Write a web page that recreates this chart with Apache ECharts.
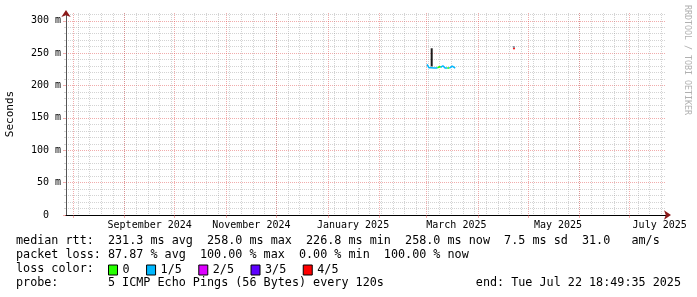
<!DOCTYPE html>
<html><head><meta charset="utf-8">
<script src="https://cdn.jsdelivr.net/npm/echarts@6/dist/echarts.min.js"></script>
<style>html,body{margin:0;padding:0;background:#fff}#c{width:697px;height:297px}</style>
</head><body><div id="c"></div>
<script>
const DAY = 86400000;
const END_TIME = Date.UTC(2025, 6, 22, 18, 49, 35);
const RANGE_DAYS = 360;
const START_TIME = END_TIME - RANGE_DAYS * DAY;
const REF_DAY = Date.UTC(2025, 2, 1); // day offsets below are counted from 1 Mar 2025

// axis tick labels
const xLabelText = ['September 2024', 'November 2024', 'January 2025', 'March 2025', 'May 2025', 'July 2025'];
const xLabelAt = ['2024-09-16', '2024-11-16', '2025-01-16', '2025-03-19', '2025-05-19', '2025-07-19'];
const yTickValues = [0, 50, 100, 150, 200, 250, 300];
const yTickLabels = ['0\u00a0\u00a0', '50 m', '100 m', '150 m', '200 m', '250 m', '300 m'];
const yMinorValues = [10, 20, 30, 40, 60, 70, 80, 90, 110, 120, 130, 140, 160, 170, 180, 190, 210, 220, 230, 240, 260, 270, 280, 290, 310];

// median RTT (ms) — days after 1 Mar 2025, value, lost pings of 5 (null = no data)
const medianDay  = [0.4, 0.9, 1.5, 2.1, 2.8, 3.4, 4.0, 4.7, 5.4, 6.0, 6.6, 7.3, 8.0, 8.6, 9.3, 9.9, 10.5, 11.2, 11.8, 12.5, 13.2, 13.8, 14.4, 15.0, 15.6, 16.2, 16.8, 17.3, 30.0, 52.3, 52.9];
const medianRtt  = [232.5, 230.5, 227.5, 227.0, 227.5, 227.0, 227.5, 227.0, 227.3, 227.0, 227.5, 228.5, 229.0, 228.0, 228.5, 230.5, 227.5, 227.0, 226.8, 227.0, 227.5, 227.0, 227.0, 227.5, 230.0, 231.5, 228.5, 227.0, null, 258.0, 256.0];
const medianLoss = [0, 1, 1, 1, 1, 1, 1, 1, 1, 1, 1, 0, 0, 0, 1, 1, 1, 1, 1, 1, 0, 0, 1, 1, 1, 1, 1, 1, null, 4, 4];

// smoke (spread of the individual pings)
const smokeDay   = [3.2, 52.5];
const smokeLow   = [229.5, 257.0];
const smokeHigh  = [257.5, 261.0];
const smokeShade = ['#1c1c1c', '#8a9aa8'];

const lossNames  = ['0', '1/5', '2/5', '3/5', '4/5'];
const lossColors = ['#26ff00', '#00b8ff', '#dd00ff', '#5e00ff', '#ff0000'];

// ---- grid helper values (calendar) ----
const weekTicks = [];
for (let t = Date.UTC(2024, 6, 28); t <= END_TIME; t += 7 * DAY) if (t >= START_TIME) weekTicks.push(t);
const monthTicks = [];
for (let m = 0; m < 13; m++) { const t = Date.UTC(2024, 6 + m, 1); if (t >= START_TIME && t <= END_TIME) monthTicks.push(t); }
const labelTicks = xLabelAt.map(s => Date.parse(s + 'T00:00:00Z'));

const MONO = '"DejaVu Sans Mono", monospace';
const GRID_GRAY = 'rgba(140,140,140,0.38)';
const GRID_RED = 'rgba(225,70,70,0.45)';
const ARROW = '#8b1a1a';

const lossSeries = lossNames.map((name, k) => ({
  name, type: 'line', xAxisIndex: 2, yAxisIndex: 1,
  data: medianDay.map((d, i) => {
    const t = REF_DAY + d * DAY;
    if (medianRtt[i] == null) return [t, null];
    const nextK = i + 1 < medianDay.length && medianRtt[i + 1] != null && medianLoss[i + 1] === k;
    return [t, (medianLoss[i] === k || nextK) ? medianRtt[i] : null];
  }),
  showSymbol: false, connectNulls: false, animation: false, z: 4,
  lineStyle: { color: lossColors[k], width: 1.5 }, itemStyle: { color: lossColors[k] }
}));

const smokeSeries = {
  name: 'smoke', type: 'custom', xAxisIndex: 2, yAxisIndex: 1, z: 3, animation: false,
  data: smokeDay.map((d, i) => [REF_DAY + d * DAY, smokeLow[i], smokeHigh[i], i]),
  encode: { x: 0, y: [1, 2] },
  renderItem: (params, api) => {
    const lo = api.coord([api.value(0), api.value(1)]);
    const hi = api.coord([api.value(0), api.value(2)]);
    return { type: 'rect', shape: { x: lo[0] - 1, y: hi[1], width: 2, height: lo[1] - hi[1] },
      style: { fill: smokeShade[api.value(3)] } };
  }
};

const baseX = { type: 'value', min: START_TIME, max: END_TIME, position: 'bottom' };
const baseY = { type: 'value', min: 0, max: 312, position: 'left' };

const option = {
  backgroundColor: '#ffffff',
  animation: false,
  grid: { left: 66, right: 31, top: 13, bottom: 82, containLabel: false, outerBoundsMode: 'none' },
  xAxis: [
    Object.assign({}, baseX, {
      axisLine: { show: false }, axisLabel: { show: false },
      axisTick: { show: false, customValues: weekTicks },
      splitLine: { show: true, lineStyle: { color: GRID_GRAY, type: [1, 1], width: 1 } }
    }),
    Object.assign({}, baseX, {
      axisLine: { show: true, symbol: ['none', 'arrow'], symbolSize: [7, 7], symbolOffset: [0, 5], lineStyle: { color: ARROW, width: 1 } },
      axisLabel: { show: false },
      axisTick: { show: true, length: 3, customValues: monthTicks, lineStyle: { color: GRID_RED } },
      splitLine: { show: true, lineStyle: { color: GRID_RED, type: [1, 1], width: 1 } }
    }),
    Object.assign({}, baseX, {
      axisLine: { show: true, lineStyle: { color: '#000', width: 1 } },
      axisTick: { show: false, customValues: labelTicks },
      splitLine: { show: false },
      axisLabel: { show: true, customValues: labelTicks, margin: 5, color: '#000',
        fontFamily: MONO, fontSize: 10, hideOverlap: false,
        formatter: v => { const i = labelTicks.indexOf(v); return i >= 0 ? xLabelText[i] : ''; } }
    })
  ],
  yAxis: [
    Object.assign({}, baseY, {
      axisLine: { show: true, symbol: ['none', 'arrow'], symbolSize: [7, 7], symbolOffset: [0, 3], lineStyle: { color: ARROW, width: 1 } },
      axisLabel: { show: false },
      axisTick: { show: true, length: 2, customValues: yMinorValues, lineStyle: { color: GRID_GRAY } },
      splitLine: { show: true, lineStyle: { color: GRID_GRAY, type: [1, 1], width: 1 } }
    }),
    Object.assign({}, baseY, {
      name: 'Seconds', nameLocation: 'middle', nameRotate: 90, nameGap: 50,
      nameTextStyle: { fontFamily: MONO, fontSize: 11, color: '#000' },
      axisLine: { show: true, lineStyle: { color: '#555', width: 1 } },
      axisTick: { show: true, length: 3, customValues: yTickValues, lineStyle: { color: GRID_RED } },
      splitLine: { show: true, lineStyle: { color: GRID_RED, type: [1, 1], width: 1 } },
      axisLabel: { show: true, customValues: yTickValues, margin: 5, color: '#000',
        fontFamily: MONO, fontSize: 10,
        formatter: v => { const i = yTickValues.indexOf(v); return i >= 0 ? yTickLabels[i] : ''; } }
    })
  ],
  legend: {
    data: lossNames, left: 108, top: 264, orient: 'horizontal', padding: 0,
    icon: 'rect', itemWidth: 9, itemHeight: 10, itemGap: 16.5, selectedMode: false,
    itemStyle: { borderColor: '#000', borderWidth: 1 },
    textStyle: { fontFamily: MONO, fontSize: 11.75, color: '#000' }
  },
  graphic: [
    { type: 'text', x: 16, y: 241, style: { text: 'median rtt:  231.3 ms avg  258.0 ms max  226.8 ms min  258.0 ms now  7.5 ms sd  31.0   am/s', font: '11.75px ' + MONO, fill: '#000', verticalAlign: 'middle' } },
    { type: 'text', x: 16, y: 255, style: { text: 'packet loss: 87.87 % avg  100.00 % max  0.00 % min  100.00 % now', font: '11.75px ' + MONO, fill: '#000', verticalAlign: 'middle' } },
    { type: 'text', x: 16, y: 269, style: { text: 'loss color:', font: '11.75px ' + MONO, fill: '#000', verticalAlign: 'middle' } },
    { type: 'text', x: 16, y: 283, style: { text: 'probe:       5 ICMP Echo Pings (56 Bytes) every 120s', font: '11.75px ' + MONO, fill: '#000', verticalAlign: 'middle' } },
    { type: 'text', x: 681, y: 283, style: { text: 'end: Tue Jul 22 18:49:35 2025', font: '11.75px ' + MONO, fill: '#000', align: 'right', verticalAlign: 'middle' } },
    { type: 'text', x: 687, y: 5, rotation: -Math.PI / 2, style: { text: 'RRDTOOL / TOBI OETIKER', font: '8.3px ' + MONO, fill: '#b0b0b0', align: 'left', verticalAlign: 'middle' } }
  ],
  series: [smokeSeries].concat(lossSeries)
};

const chart = echarts.init(document.getElementById('c'), null, { renderer: 'canvas' });
chart.setOption(option);
</script>
</body></html>
